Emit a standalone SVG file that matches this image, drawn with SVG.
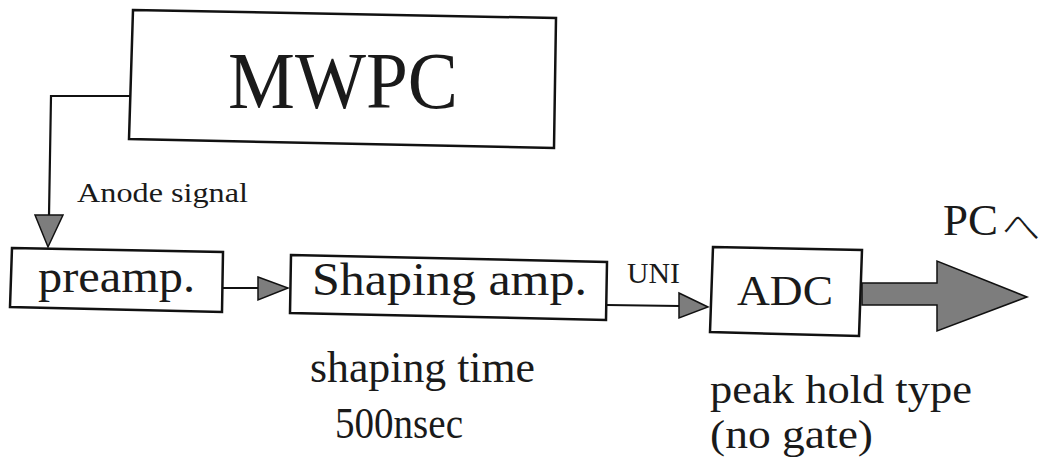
<svg xmlns="http://www.w3.org/2000/svg" width="1045" height="459" viewBox="0 0 1045 459">
  <style>
    .box { fill: #ffffff; stroke: #111111; stroke-width: 2.5; stroke-linejoin: miter; }
    .wire { fill: none; stroke: #111111; stroke-width: 2.2; }
    .head { fill: #7d7d7d; stroke: #111111; stroke-width: 1.5; stroke-linejoin: miter; }
    .lbl { font-family: "Liberation Serif", "Times New Roman", serif; fill: #1a1a1a; }
    .jp { font-family: "Noto Sans CJK JP", sans-serif; font-weight: 300; }
  </style>
  <rect width="1045" height="459" fill="#ffffff"/>

  <!-- signal connectors -->
  <g id="connectors">
    <!-- MWPC anode output down to the preamplifier -->
    <polyline class="wire" points="130,96 51,96 49,216"/>
    <polygon class="head" points="35,215 63,215 48,247"/>
    <!-- preamp to shaping amplifier -->
    <line class="wire" x1="223" y1="288" x2="259" y2="288"/>
    <polygon class="head" points="258,277 288,288 258,300"/>
    <!-- shaping amplifier unipolar output to ADC -->
    <line class="wire" x1="607" y1="305" x2="680" y2="306"/>
    <polygon class="head" points="679,293 708,307 679,318"/>
    <!-- ADC data out to the PC -->
    <polygon class="head" points="862,283 937,283 937,261 1027,297 937,331 937,305 862,305"/>
  </g>

  <g id="node-mwpc">
    <polygon class="box" points="133,10 556,18 554,148 129,139"/>
    <text class="lbl" x="228" y="108" font-size="80" textLength="230" lengthAdjust="spacingAndGlyphs">MWPC</text>
  </g>

  <g id="label-anode">
    <text class="lbl" x="77" y="202" font-size="27" textLength="171" lengthAdjust="spacingAndGlyphs">Anode signal</text>
  </g>

  <g id="node-preamp">
    <polygon class="box" points="12,248 223,252 222,312 10,307"/>
    <text class="lbl" x="38" y="292" font-size="46" textLength="157" lengthAdjust="spacingAndGlyphs">preamp.</text>
  </g>

  <g id="node-shaping">
    <polygon class="box" points="291,255 607,262 606,320 290,313"/>
    <text class="lbl" x="312" y="295" font-size="46" textLength="275" lengthAdjust="spacingAndGlyphs">Shaping amp.</text>
  </g>

  <g id="label-uni">
    <text class="lbl" x="627" y="283" font-size="29" textLength="53" lengthAdjust="spacingAndGlyphs">UNI</text>
  </g>

  <g id="node-adc">
    <polygon class="box" points="713,247 862,250 859,336 710,332"/>
    <text class="lbl" x="737" y="305" font-size="42" textLength="96" lengthAdjust="spacingAndGlyphs">ADC</text>
  </g>

  <g id="label-pc">
    <text class="lbl" x="943" y="235" font-size="45"><tspan textLength="55" lengthAdjust="spacingAndGlyphs">PC</tspan><tspan class="jp" x="1002" y="240" font-size="38">へ</tspan></text>
  </g>

  <g id="label-shaping-time">
    <text class="lbl" x="310" y="382" font-size="44" textLength="225" lengthAdjust="spacingAndGlyphs">shaping time</text>
    <text class="lbl" x="335" y="438" font-size="44" textLength="128" lengthAdjust="spacingAndGlyphs">500nsec</text>
  </g>

  <g id="label-adc-type">
    <text class="lbl" x="710" y="403" font-size="40" textLength="262" lengthAdjust="spacingAndGlyphs">peak hold type</text>
    <text class="lbl" x="710" y="448" font-size="40" textLength="163" lengthAdjust="spacingAndGlyphs">(no gate)</text>
  </g>
</svg>
